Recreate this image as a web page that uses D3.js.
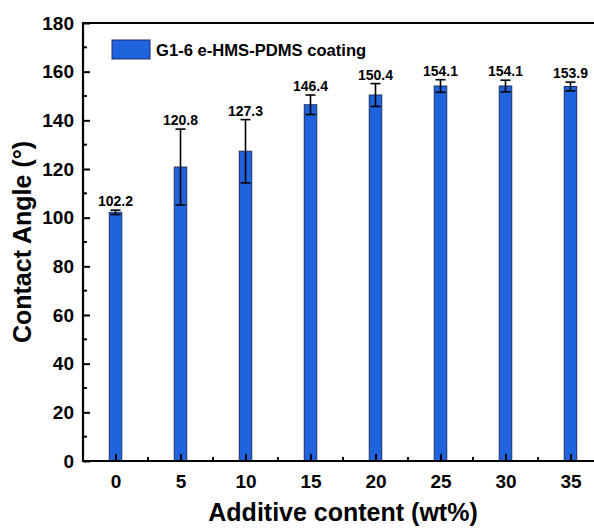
<!DOCTYPE html>
<html>
<head>
<meta charset="utf-8">
<script src="https://cdn.jsdelivr.net/npm/d3@7"></script>
<style>
  html, body { margin: 0; padding: 0; background: #fff; }
  svg { display: block; font-family: Arial, "Liberation Sans", Helvetica, sans-serif; }
</style>
</head>
<body>
<svg id="chart" width="594" height="529"></svg>
<script>
// Additive content (wt%) and measured contact angles
const contents = [0, 5, 10, 15, 20, 25, 30, 35];
const angles = [102.2, 120.8, 127.3, 146.4, 150.4, 154.1, 154.1, 153.9];
const errors = [0.9, 15.6, 13.0, 4.0, 4.7, 2.6, 2.4, 1.8];
const yTicks = [0, 20, 40, 60, 80, 100, 120, 140, 160, 180];
const seriesName = "G1-6 e-HMS-PDMS coating";

const svg = d3.select("#chart");
const plotL = 83, plotR = 603, plotT = 23, plotB = 461;

const x = d3.scaleLinear().domain([-2.5, 37.5]).range([plotL, plotR]);
const y = d3.scaleLinear().domain([0, 180]).range([plotB, plotT]);

const barW = 12.5;
const fill = "#1f64dc";
const edge = "#1b2f66";

// bars
svg.append("g").selectAll("rect").data(contents).join("rect")
  .attr("x", (d) => x(d) - barW / 2)
  .attr("width", barW)
  .attr("y", (d, i) => y(angles[i]))
  .attr("height", (d, i) => y(0) - y(angles[i]))
  .attr("fill", fill)
  .attr("stroke", edge)
  .attr("stroke-width", 1);

// error bars
const eg = svg.append("g").attr("stroke", "#000").attr("stroke-width", 1.6);
contents.forEach((c, i) => {
  const cx = x(c);
  const hi = y(angles[i] + errors[i]);
  const lo = y(angles[i] - errors[i]);
  eg.append("line").attr("x1", cx).attr("x2", cx).attr("y1", hi).attr("y2", lo);
  eg.append("line").attr("x1", cx - 5).attr("x2", cx + 5).attr("y1", hi).attr("y2", hi);
  eg.append("line").attr("x1", cx - 5).attr("x2", cx + 5).attr("y1", lo).attr("y2", lo);
});

// value labels
svg.append("g").selectAll("text").data(contents).join("text")
  .attr("x", (d) => x(d))
  .attr("y", (d, i) => y(angles[i] + errors[i]) - 4)
  .attr("text-anchor", "middle")
  .attr("font-size", 14)
  .attr("font-weight", "bold")
  .text((d, i) => angles[i].toFixed(1));

// x axis: major ticks at each content, minor ticks between, pointing inward
const xAxis = d3.axisBottom(x).tickValues(contents).tickSize(-7).tickPadding(14)
  .tickFormat(d3.format("d"));
const gx = svg.append("g").attr("transform", `translate(0,${plotB})`).call(xAxis);
gx.select(".domain").remove();
gx.selectAll(".tick line").attr("stroke-width", 2);
gx.selectAll("text").attr("font-size", 19).attr("font-weight", "bold")
  .attr("fill", "#000").attr("font-family", "Arial, 'Liberation Sans', sans-serif");
const xMinor = d3.range(contents.length - 1).map((i) => (contents[i] + contents[i + 1]) / 2);
svg.append("g").selectAll("line").data(xMinor).join("line")
  .attr("x1", (d) => x(d)).attr("x2", (d) => x(d))
  .attr("y1", plotB).attr("y2", plotB - 4)
  .attr("stroke", "#000").attr("stroke-width", 2);

// y axis: major ticks every 20, minor every 10, pointing inward
const yAxis = d3.axisLeft(y).tickValues(yTicks).tickSize(-7).tickPadding(9);
const gy = svg.append("g").attr("transform", `translate(${plotL},0)`).call(yAxis);
gy.select(".domain").remove();
gy.selectAll(".tick line").attr("stroke-width", 2);
gy.selectAll("text").attr("font-size", 19).attr("font-weight", "bold")
  .attr("fill", "#000").attr("font-family", "Arial, 'Liberation Sans', sans-serif");
const yMinor = yTicks.slice(0, -1).map((v, i) => (v + yTicks[i + 1]) / 2);
svg.append("g").selectAll("line").data(yMinor).join("line")
  .attr("x1", plotL).attr("x2", plotL + 4)
  .attr("y1", (d) => y(d)).attr("y2", (d) => y(d))
  .attr("stroke", "#000").attr("stroke-width", 2);

// frame
const frame = svg.append("g").attr("stroke", "#000").attr("stroke-width", 2.2).attr("fill", "none");
frame.append("line").attr("x1", plotL).attr("x2", plotL).attr("y1", plotT).attr("y2", plotB);
frame.append("line").attr("x1", plotL - 1).attr("x2", plotR).attr("y1", plotB).attr("y2", plotB);
frame.append("line").attr("x1", plotL - 1).attr("x2", plotR).attr("y1", plotT).attr("y2", plotT);
frame.append("line").attr("x1", plotR).attr("x2", plotR).attr("y1", plotT).attr("y2", plotB);

// legend
const lg = svg.append("g");
lg.append("rect").attr("x", 112).attr("y", 40).attr("width", 38).attr("height", 19)
  .attr("fill", fill).attr("stroke", edge).attr("stroke-width", 1);
lg.append("text").attr("x", 156).attr("y", 56).attr("font-size", 16.6)
  .attr("font-weight", "bold").text(seriesName);

// axis titles
svg.append("text")
  .attr("transform", `translate(31,${(plotT + plotB) / 2}) rotate(-90)`)
  .attr("text-anchor", "middle")
  .attr("font-size", 25).attr("font-weight", "bold")
  .text("Contact Angle (°)");
svg.append("text")
  .attr("x", (plotL + plotR) / 2).attr("y", 521)
  .attr("text-anchor", "middle")
  .attr("font-size", 25).attr("font-weight", "bold")
  .text("Additive content (wt%)");
</script>
</body>
</html>
